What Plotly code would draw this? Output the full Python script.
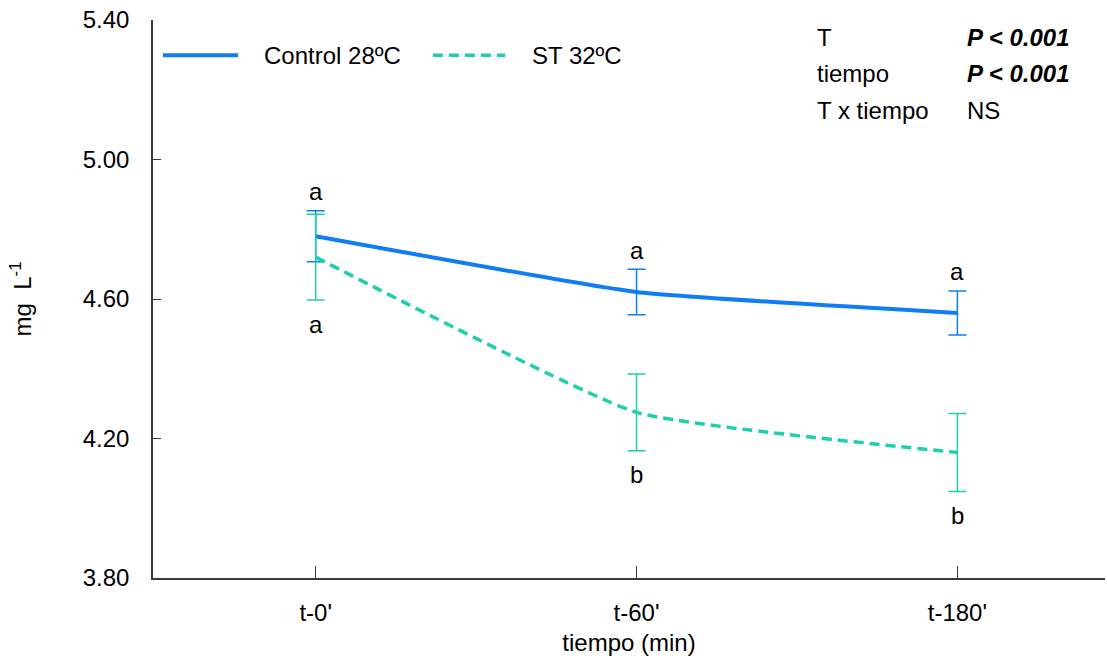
import plotly.graph_objects as go

# Sampling times and group means with error (mg L-1)
times = ["t-0'", "t-60'", "t-180'"]
control_mean = [4.78, 4.62, 4.56]
control_err = [0.073, 0.065, 0.063]
st_mean = [4.72, 4.275, 4.16]
st_err = [0.123, 0.11, 0.112]

# Post-hoc letters
control_letters = ["a", "a", "a"]
st_letters = ["a", "b", "b"]

# Factor significance table
stat_terms = ["T", "tiempo", "T x tiempo"]
stat_values = ["<b><i>P < 0.001</i></b>", "<b><i>P < 0.001</i></b>", "NS"]

series_names = ["Control 28ºC", "ST 32ºC"]

BLUE = "#107DF5"
TEAL = "#1ECFAA"
AXIS = "#3a3a3a"
FONT = "Liberation Sans, Arial, sans-serif"
FS = 24
DASH = "10px,6px"

fig = go.Figure()

fig.add_trace(go.Scatter(
    x=times, y=control_mean, name=series_names[0], mode="lines", showlegend=False,
    line=dict(color=BLUE, width=4, shape="spline", smoothing=0.4),
    error_y=dict(type="data", array=control_err, visible=True,
                 color=BLUE, thickness=1.5, width=9),
))
fig.add_trace(go.Scatter(
    x=times, y=st_mean, name=series_names[1], mode="lines", showlegend=False,
    line=dict(color=TEAL, width=3.5, dash=DASH, shape="spline", smoothing=0.4),
    error_y=dict(type="data", array=st_err, visible=True,
                 color=TEAL, thickness=1.5, width=9),
))

# Letters above control bars and below ST bars
for i, t in enumerate(times):
    fig.add_annotation(x=t, y=control_mean[i] + control_err[i], text=control_letters[i],
                       showarrow=False, yshift=19, font=dict(size=FS, color="black", family=FONT))
    fig.add_annotation(x=t, y=st_mean[i] - st_err[i], text=st_letters[i],
                       showarrow=False, yshift=-24, font=dict(size=FS, color="black", family=FONT))

# Legend drawn as line samples plus labels along the top
leg_y = 0.937
legend_items = [
    (series_names[0], BLUE, 4, "solid", 0.0105, 0.0893, 0.1145),
    (series_names[1], TEAL, 3.5, DASH, 0.294, 0.370, 0.396),
]
for label, color, width, dash, x0, x1, xt in legend_items:
    fig.add_shape(type="line", xref="paper", yref="paper", x0=x0, x1=x1, y0=leg_y, y1=leg_y,
                  line=dict(color=color, width=width, dash=dash))
    fig.add_annotation(xref="paper", yref="paper", x=xt, y=leg_y, text=label,
                       xanchor="left", yanchor="middle", showarrow=False,
                       font=dict(size=FS, color="black", family=FONT))

# Significance table in the upper right
row_y = [0.9695, 0.905, 0.8387]
for term, val, yy in zip(stat_terms, stat_values, row_y):
    fig.add_annotation(xref="paper", yref="paper", x=0.695, y=yy, text=term,
                       xanchor="left", yanchor="middle", showarrow=False,
                       font=dict(size=FS, color="black", family=FONT))
    fig.add_annotation(xref="paper", yref="paper", x=0.853, y=yy, text=val,
                       xanchor="left", yanchor="middle", showarrow=False,
                       font=dict(size=FS, color="black", family=FONT))

fig.update_layout(
    width=1107, height=660,
    margin=dict(l=153, r=2, t=20, b=82),
    plot_bgcolor="white", paper_bgcolor="white",
    font=dict(family=FONT, size=FS, color="black"),
    showlegend=False,
    xaxis=dict(
        type="category", range=[-0.507, 2.46],
        showline=True, linecolor=AXIS, linewidth=1.5,
        ticks="inside", ticklen=12, tickcolor=AXIS, tickwidth=1,
        showgrid=False, zeroline=False,
        ticklabelstandoff=12,
        tickfont=dict(size=FS, family=FONT),
        title=dict(text="tiempo (min)", font=dict(size=FS, family=FONT), standoff=10),
    ),
    yaxis=dict(
        range=[3.8, 5.4], tickvals=[3.8, 4.2, 4.6, 5.0, 5.4],
        ticktext=["3.80", "4.20", "4.60", "5.00", "5.40"],
        showline=True, linecolor=AXIS, linewidth=1.5,
        ticks="inside", ticklen=8, tickcolor=AXIS, tickwidth=1,
        showgrid=False, zeroline=False,
        ticklabelstandoff=17,
        tickfont=dict(size=FS, family=FONT),
        title=dict(text="mg  L<sup>-1</sup>", font=dict(size=FS, family=FONT), standoff=44),
    ),
)

fig.write_html("out.html")
